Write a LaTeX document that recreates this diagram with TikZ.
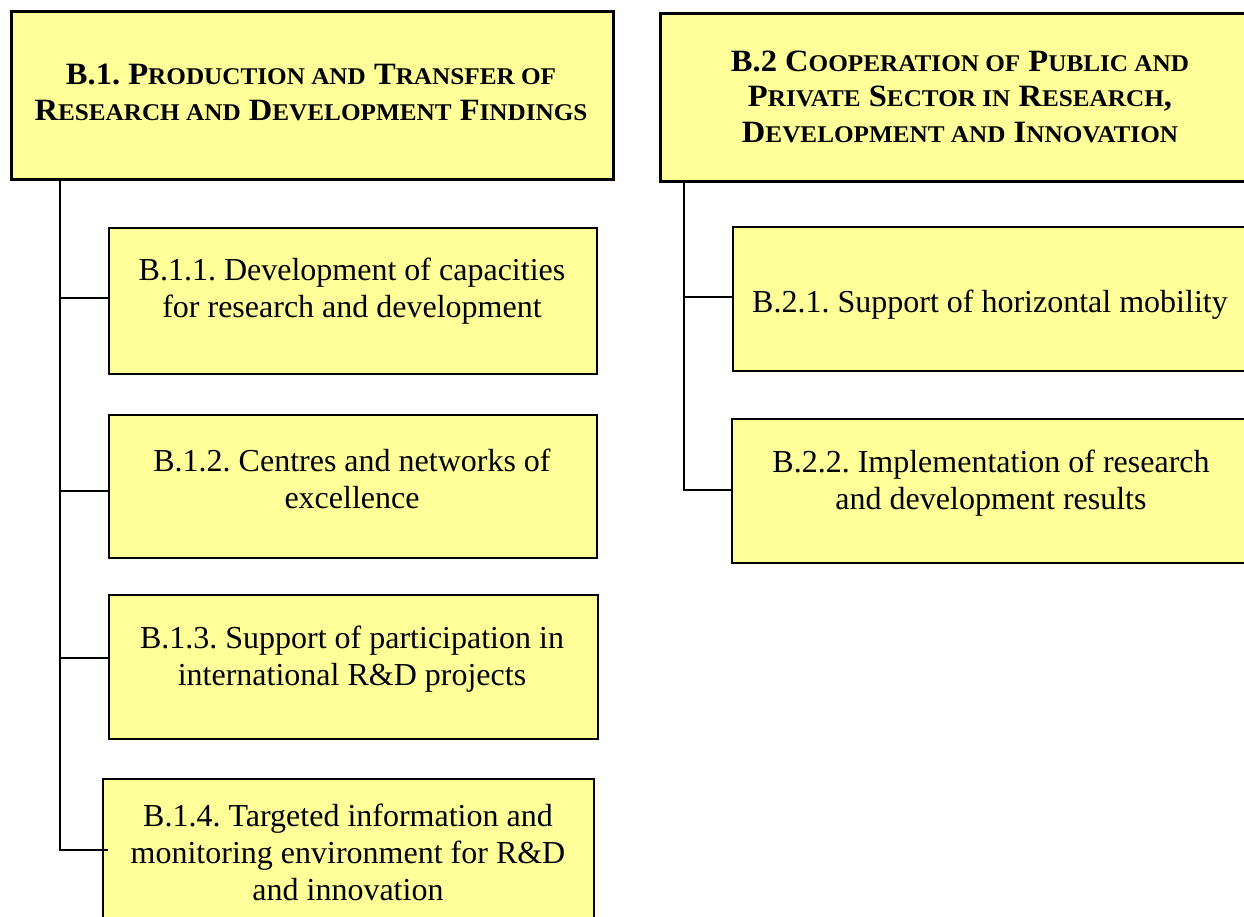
\documentclass[tikz,border=0pt]{standalone}
\usepackage{fontspec}
\setmainfont{Liberation Serif}
\newfontfamily\hdfont{Liberation Serif}[FakeStretch=1.05]
\definecolor{boxyellow}{HTML}{FFFF99}
\newcommand\hsc[1]{{\fontsize{24}{24}\selectfont #1}}
\tikzset{
  hdbox/.style={draw=black, line width=3pt, fill=boxyellow, anchor=north west, inner sep=0pt},
  subbox/.style={draw=black, line width=1.5pt, fill=boxyellow, anchor=north west, inner sep=0pt},
  hdtext/.style={align=center, font=\hdfont\bfseries\fontsize{31}{35.5}\selectfont, inner sep=0pt},
  subtext/.style={align=center, font=\fontsize{32}{37}\selectfont, inner sep=0pt},
  conn/.style={draw=black, line width=1.5pt}
}
\begin{document}
\frenchspacing
\begin{tikzpicture}[x=1pt,y=-1pt]
\useasboundingbox (0,0) rectangle (1244,916);
\clip (0,0) rectangle (1244,916);
% boxes
\node[hdbox, minimum width=602, minimum height=168] (h1) at (10,10) {};
\node[hdbox, minimum width=602, minimum height=168] (h2) at (659,12) {};
\node[subbox, minimum width=488, minimum height=146] (b11) at (108,227) {};
\node[subbox, minimum width=488, minimum height=143] (b12) at (108,414) {};
\node[subbox, minimum width=489, minimum height=144] (b13) at (108,594) {};
\node[subbox, minimum width=491, minimum height=150] (b14) at (102,778) {};
\node[subbox, minimum width=520, minimum height=144] (b21) at (732,226) {};
\node[subbox, minimum width=520, minimum height=144] (b22) at (731,418) {};
% texts
\node[hdtext] (t1) at (311,92.5) {B.1. P\hsc{RODUCTION AND} T\hsc{RANSFER OF}\\R\hsc{ESEARCH AND} D\hsc{EVELOPMENT} F\hsc{INDINGS}};
\node[hdtext] (t2) at (960,96.5) {B.2 C\hsc{OOPERATION OF} P\hsc{UBLIC AND}\\P\hsc{RIVATE} S\hsc{ECTOR IN} R\hsc{ESEARCH},\\D\hsc{EVELOPMENT AND} I\hsc{NNOVATION}};
\node[subtext] (s11) at (352,291.5) {B.1.1. Development of capacities\\for research and development};
\node[subtext] (s12) at (352,479) {B.1.2. Centres and networks of\\excellence};
\node[subtext] (s13) at (352,659) {B.1.3. Support of participation in\\international R\&D projects};
\node[subtext] (s14) at (348,852) {B.1.4. Targeted information and\\monitoring environment for R\&D\\and innovation};
\node[subtext] (s21) at (990,305) {B.2.1. Support of horizontal mobility};
\node[subtext] (s22) at (991,483) {B.2.2. Implementation of research\\and development results};
% connectors
\coordinate (r1) at (60,178);
\coordinate (j11) at (60,298);
\coordinate (j12) at (60,491);
\coordinate (j13) at (60,658);
\coordinate (j14) at (60,850);
\coordinate (e14) at (108,850);
\draw[conn] (h1.south -| r1) -- (j14) -- (e14);
\draw[conn] (j11) -- (j11 -| b11.west);
\draw[conn] (j12) -- (j12 -| b12.west);
\draw[conn] (j13) -- (j13 -| b13.west);
\coordinate (r2) at (684,180);
\coordinate (j21) at (684,297);
\coordinate (j22) at (684,490);
\draw[conn] (h2.south -| r2) -- (j22) -- (j22 -| b22.west);
\draw[conn] (j21) -- (j21 -| b21.west);
\end{tikzpicture}
\end{document}
